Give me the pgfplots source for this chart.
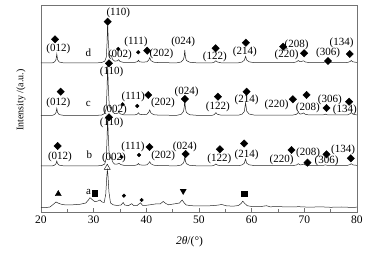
\documentclass[border=0pt]{standalone}
\usepackage{pgfplots}
\pgfplotsset{compat=1.18}
\usepackage{fontspec}
\setmainfont{Liberation Serif}
\begin{document}
\begin{tikzpicture}
\begin{axis}[
  scale only axis, width=316pt, height=207pt,
  xmin=20, xmax=80, ymin=0, ymax=207,
  xtick={20,30,...,80}, minor x tick num=1,
  ytick=\empty, tick pos=bottom, tick align=inside,
  major tick length=4pt, minor tick length=3pt,
  axis line style={black!55}, every tick/.style={black!55},
  /pgf/number format/assume math mode=true,
  ticklabel style={font=\fontsize{11.5}{13}\selectfont},
  xlabel={{\itshape 2θ}/(°)},
  xlabel style={at={(axis description cs:0.47,-0.143)}, anchor=center, font=\fontsize{11.5}{13}\selectfont},
  ylabel={Intensity /(a.u.)},
  ylabel style={at={(axis description cs:-0.063,0.54)}, anchor=center, font=\fontsize{10}{12}\selectfont},
  clip=false,
]
\coordinate (O) at (rel axis cs:0,0);
% trace d
\addplot[black!85, line width=0.5pt] coordinates {
(20,149)(22.2,149.2)(22.6,150.2)(22.85,152.5)(23.0,158)(23.15,152.3)(23.45,150)(24.2,149.2)
(30.0,149)(31.5,149.4)(32.1,150.8)(32.4,155)(32.55,170)(32.65,190.3)(32.78,170)(32.95,158)
(33.15,156)(33.35,156.5)(33.6,152.5)(34.0,150.8)(34.5,151.2)(34.75,152.3)(35.0,150.5)(35.6,149.7)
(36.8,149.5)(37.8,149.6)(38.35,150.4)(38.5,151.8)(38.7,150.2)(39.4,149.8)(40.1,150.2)(40.45,152)
(40.65,154.3)(40.85,151.5)(41.4,149.8)(42.5,149.3)(45.8,149.2)(46.6,150)(47.05,152.5)(47.2,156)
(47.3,162)(47.42,155)(47.6,151.5)(48.2,149.8)(49.5,149.2)(52.5,149.2)(52.9,149.8)(53.2,151.2)
(53.5,150)(54.2,149.2)(57.5,149.2)(58.2,150)(58.6,151.8)(58.85,155.6)(59.05,152)(59.5,150.2)
(60.5,149.3)(67.8,149.3)(68.5,150.1)(68.85,151.5)(69.2,150.3)(69.5,150.6)(69.85,151.2)(70.2,150)
(71,149.4)(73.5,149.4)(74.0,150.1)(74.4,149.5)(75.5,149.4)(78.2,149.5)(78.7,150.5)(78.9,151.5)
(79.2,150.2)(80,149.5)};
% trace c
\addplot[black!85, line width=0.5pt] coordinates {
(20,96.5)(22.2,96.7)(22.6,97.6)(22.85,99.5)(23.0,103.5)(23.15,99.5)(23.45,97.4)(24.2,96.7)
(30,96.5)(31.5,96.9)(32.1,98.5)(32.4,104)(32.55,125)(32.65,147.5)(32.78,125)(32.95,107)
(33.15,104)(33.35,104.5)(33.6,100)(34.0,98.3)(34.5,98.6)(34.8,99.5)(35.1,98)(35.7,97.2)
(36.8,97)(37.8,97.1)(38.3,97.9)(38.5,99.2)(38.7,97.8)(39.4,97.3)(40.1,97.7)(40.45,99.8)
(40.65,102)(40.85,99.2)(41.4,97.3)(42.5,96.8)(45.8,96.7)(46.6,97.6)(47.05,100.5)(47.2,105)
(47.3,112.5)(47.42,104)(47.6,99.5)(48.2,97.3)(49.5,96.7)(52.5,96.7)(52.9,97.4)(53.2,99.3)
(53.5,97.7)(54.2,96.8)(57.5,96.8)(58.2,97.9)(58.6,100.5)(58.85,109.3)(59.05,101)(59.5,98)
(60.5,96.9)(67.8,96.9)(68.5,97.7)(68.85,99.5)(69.2,97.9)(69.5,98.2)(69.85,99)(70.2,97.6)
(71,97)(73.5,97)(74.0,97.8)(74.4,97.1)(75.5,97)(78.2,97.1)(78.7,98.3)(78.9,99.5)(79.2,97.9)(80,97)};
% trace b
\addplot[black!85, line width=0.5pt] coordinates {
(20,46)(22.2,46.2)(22.6,46.9)(22.85,48.3)(23.0,51)(23.15,48.3)(23.45,46.8)(24.2,46.2)
(30,46)(31.5,46.4)(32.1,48)(32.4,54)(32.55,75)(32.65,96)(32.78,75)(32.95,57)
(33.15,54)(33.35,54.5)(33.6,50)(34.0,47.8)(34.5,48)(34.8,48.8)(35.1,47.5)(35.7,46.7)
(36.8,46.5)(37.8,46.6)(38.3,47.3)(38.5,48.5)(38.7,47.2)(39.4,46.8)(40.1,47.1)(40.45,48.8)
(40.65,50.3)(40.85,48.3)(41.4,46.8)(42.5,46.3)(45.8,46.2)(46.6,46.9)(47.05,49)(47.2,51.5)
(47.3,56)(47.42,51)(47.6,48.3)(48.2,46.7)(49.5,46.2)(52.5,46.2)(52.9,46.8)(53.2,48)
(53.5,46.9)(54.2,46.3)(57.5,46.3)(58.2,47.1)(58.6,48.8)(58.85,53)(59.05,48.8)(59.5,47.2)
(60.5,46.4)(67.8,46.4)(68.5,47)(68.85,48.3)(69.2,47.1)(69.5,47.3)(69.85,47.9)(70.2,46.9)
(71,46.5)(73.5,46.5)(74.0,47.1)(74.4,46.6)(75.5,46.5)(78.2,46.6)(78.7,47.5)(78.9,48.3)(79.2,47.1)(80,46.6)};
% trace a
\addplot[black!85, line width=0.5pt] coordinates {
(20,4.3)(21.0,4.5)(21.7,5)(22.3,7.5)(22.85,10)(23.3,8.8)(24.0,7.5)(24.9,7)(26.0,7.2)(27.4,7.7)
(28.5,9)(29.0,12)(29.3,14.3)(29.7,12.5)(30.25,10.3)(30.8,11)(31.2,12)(31.6,10)(32.0,9.5)
(32.3,18)(32.5,36)(32.6,42)(32.7,38)(32.9,20)(33.2,9)(33.7,7.2)(34.4,6.5)(35.2,7)(35.6,9.5)
(35.9,7)(36.6,6.3)(37.2,8.3)(37.6,6.5)(38.2,6.3)(38.9,9.2)(39.3,6.5)(39.7,6.5)(40.7,7.2)
(41.95,8.2)(42.6,8)(43.2,10.5)(43.7,8.5)(44.2,7.2)(45.4,8.2)(46.3,9)(46.8,12)(47.2,9)(47.6,7)
(48.5,6.3)(50.2,6)(52.0,6.2)(53.5,6.8)(54.3,7.5)(55.2,6.2)(56.5,5.8)(57.5,6.5)(58.0,8.5)
(58.3,10.8)(58.7,8.5)(59.15,6.3)(60.0,5.5)(61.6,5.3)(62.8,6.3)(63.5,5.2)(65,5.4)(67,5.0)
(69,5.3)(71,4.8)(73,5.2)(75,4.7)(77,5)(79,4.6)(80,4.8)};
% diamonds
\addplot[only marks, mark=square*, mark size=2.6pt, mark options={rotate=45, fill=black, draw=black}] coordinates {
(22.66,172.7)(32.66,190.3)(40.17,161.3)(53.15,163.7)(58.9,169.3)(65.98,165.3)(69.96,158.7)(74.5,151)(78.63,158)
(32.9,148.7)(23.74,120.3)(40.36,117)(47.32,113)(53.59,115.3)(59.03,120.3)(67.82,112.7)(70.42,117)(74.21,104)(78.5,110.3)
(32.9,94.7)(23.17,66)(40.6,65)(47.46,58)(53.97,62.7)(58.58,68.5)(67.57,62)(70.6,49.3)(74.21,57.7)(78.82,53.7)};
% dots
\addplot[only marks, mark=*, mark size=1.8pt, mark options={fill=black, draw=black}] coordinates {
(34.67,163)(38.46,159.7)(35.5,107.7)(38.27,106)(35.31,55)(38.6,57)(35.75,16.3)(39.1,12)};
% a markers
\addplot[only marks, mark=triangle*, mark size=3.5pt, mark options={fill=black, draw=black}] coordinates {(23.28,18)};
\addplot[only marks, mark=triangle*, mark size=3.5pt, mark options={fill=black, draw=black, rotate=180}] coordinates {(47.0,21)};
\addplot[only marks, mark=square*, mark size=2.6pt, mark options={fill=black, draw=black}] coordinates {(30.25,18.7)(58.58,18)};
\addplot[only marks, mark=triangle, mark size=3.5pt, mark options={fill=white, draw=black}] coordinates {(32.58,44.3)};
% labels
\begin{scope}[every node/.style={font=\fontsize{11}{13}\selectfont, inner sep=0pt, anchor=center}]
\node at (axis cs:23.28,163) {(012)};
\node at (axis cs:28.98,159.3) {d};
\node at (axis cs:34.67,198.7) {(110)};
\node at (axis cs:34.99,157) {(002)};
\node at (axis cs:38.03,170.3) {(111)};
\node at (axis cs:42.87,158) {(202)};
\node at (axis cs:47.0,170.3) {(024)};
\node at (axis cs:53.0,154.7) {(122)};
\node at (axis cs:58.7,159.7) {(214)};
\node at (axis cs:68.52,167) {(208)};
\node at (axis cs:66.62,157) {(220)};
\node at (axis cs:74.52,158.7) {(306)};
\node at (axis cs:77.06,168.7) {(134)};
\node at (axis cs:33.42,140.3) {(110)};
\node at (axis cs:23.28,108.7) {(012)};
\node at (axis cs:28.98,108) {c};
\node at (axis cs:37.5,115.3) {(111)};
\node at (axis cs:34.04,102) {(002)};
\node at (axis cs:43.15,109) {(202)};
\node at (axis cs:47.65,120) {(024)};
\node at (axis cs:53.59,105) {(122)};
\node at (axis cs:59.03,112) {(214)};
\node at (axis cs:64.72,107) {(220)};
\node at (axis cs:70.66,104) {(208)};
\node at (axis cs:74.84,112) {(306)};
\node at (axis cs:77.68,102) {(134)};
\node at (axis cs:33.42,89.3) {(110)};
\node at (axis cs:23.6,55) {(012)};
\node at (axis cs:29.17,57.7) {b};
\node at (axis cs:33.85,54) {(002)};
\node at (axis cs:37.46,65.3) {(111)};
\node at (axis cs:43.2,56.3) {(202)};
\node at (axis cs:47.32,65.3) {(024)};
\node at (axis cs:53.87,52.7) {(122)};
\node at (axis cs:59.03,57.5) {(214)};
\node at (axis cs:65.67,52) {(220)};
\node at (axis cs:70.72,59.3) {(208)};
\node at (axis cs:74.21,51) {(306)};
\node at (axis cs:77.36,62) {(134)};
\node at (axis cs:29.05,20.3) {a};
\end{scope}
\end{axis}
\pgfresetboundingbox
\path[use as bounding box] ([shift={(-41pt,-41pt)}]O) rectangle ([shift={(339pt,212pt)}]O);
\end{tikzpicture}
\end{document}
